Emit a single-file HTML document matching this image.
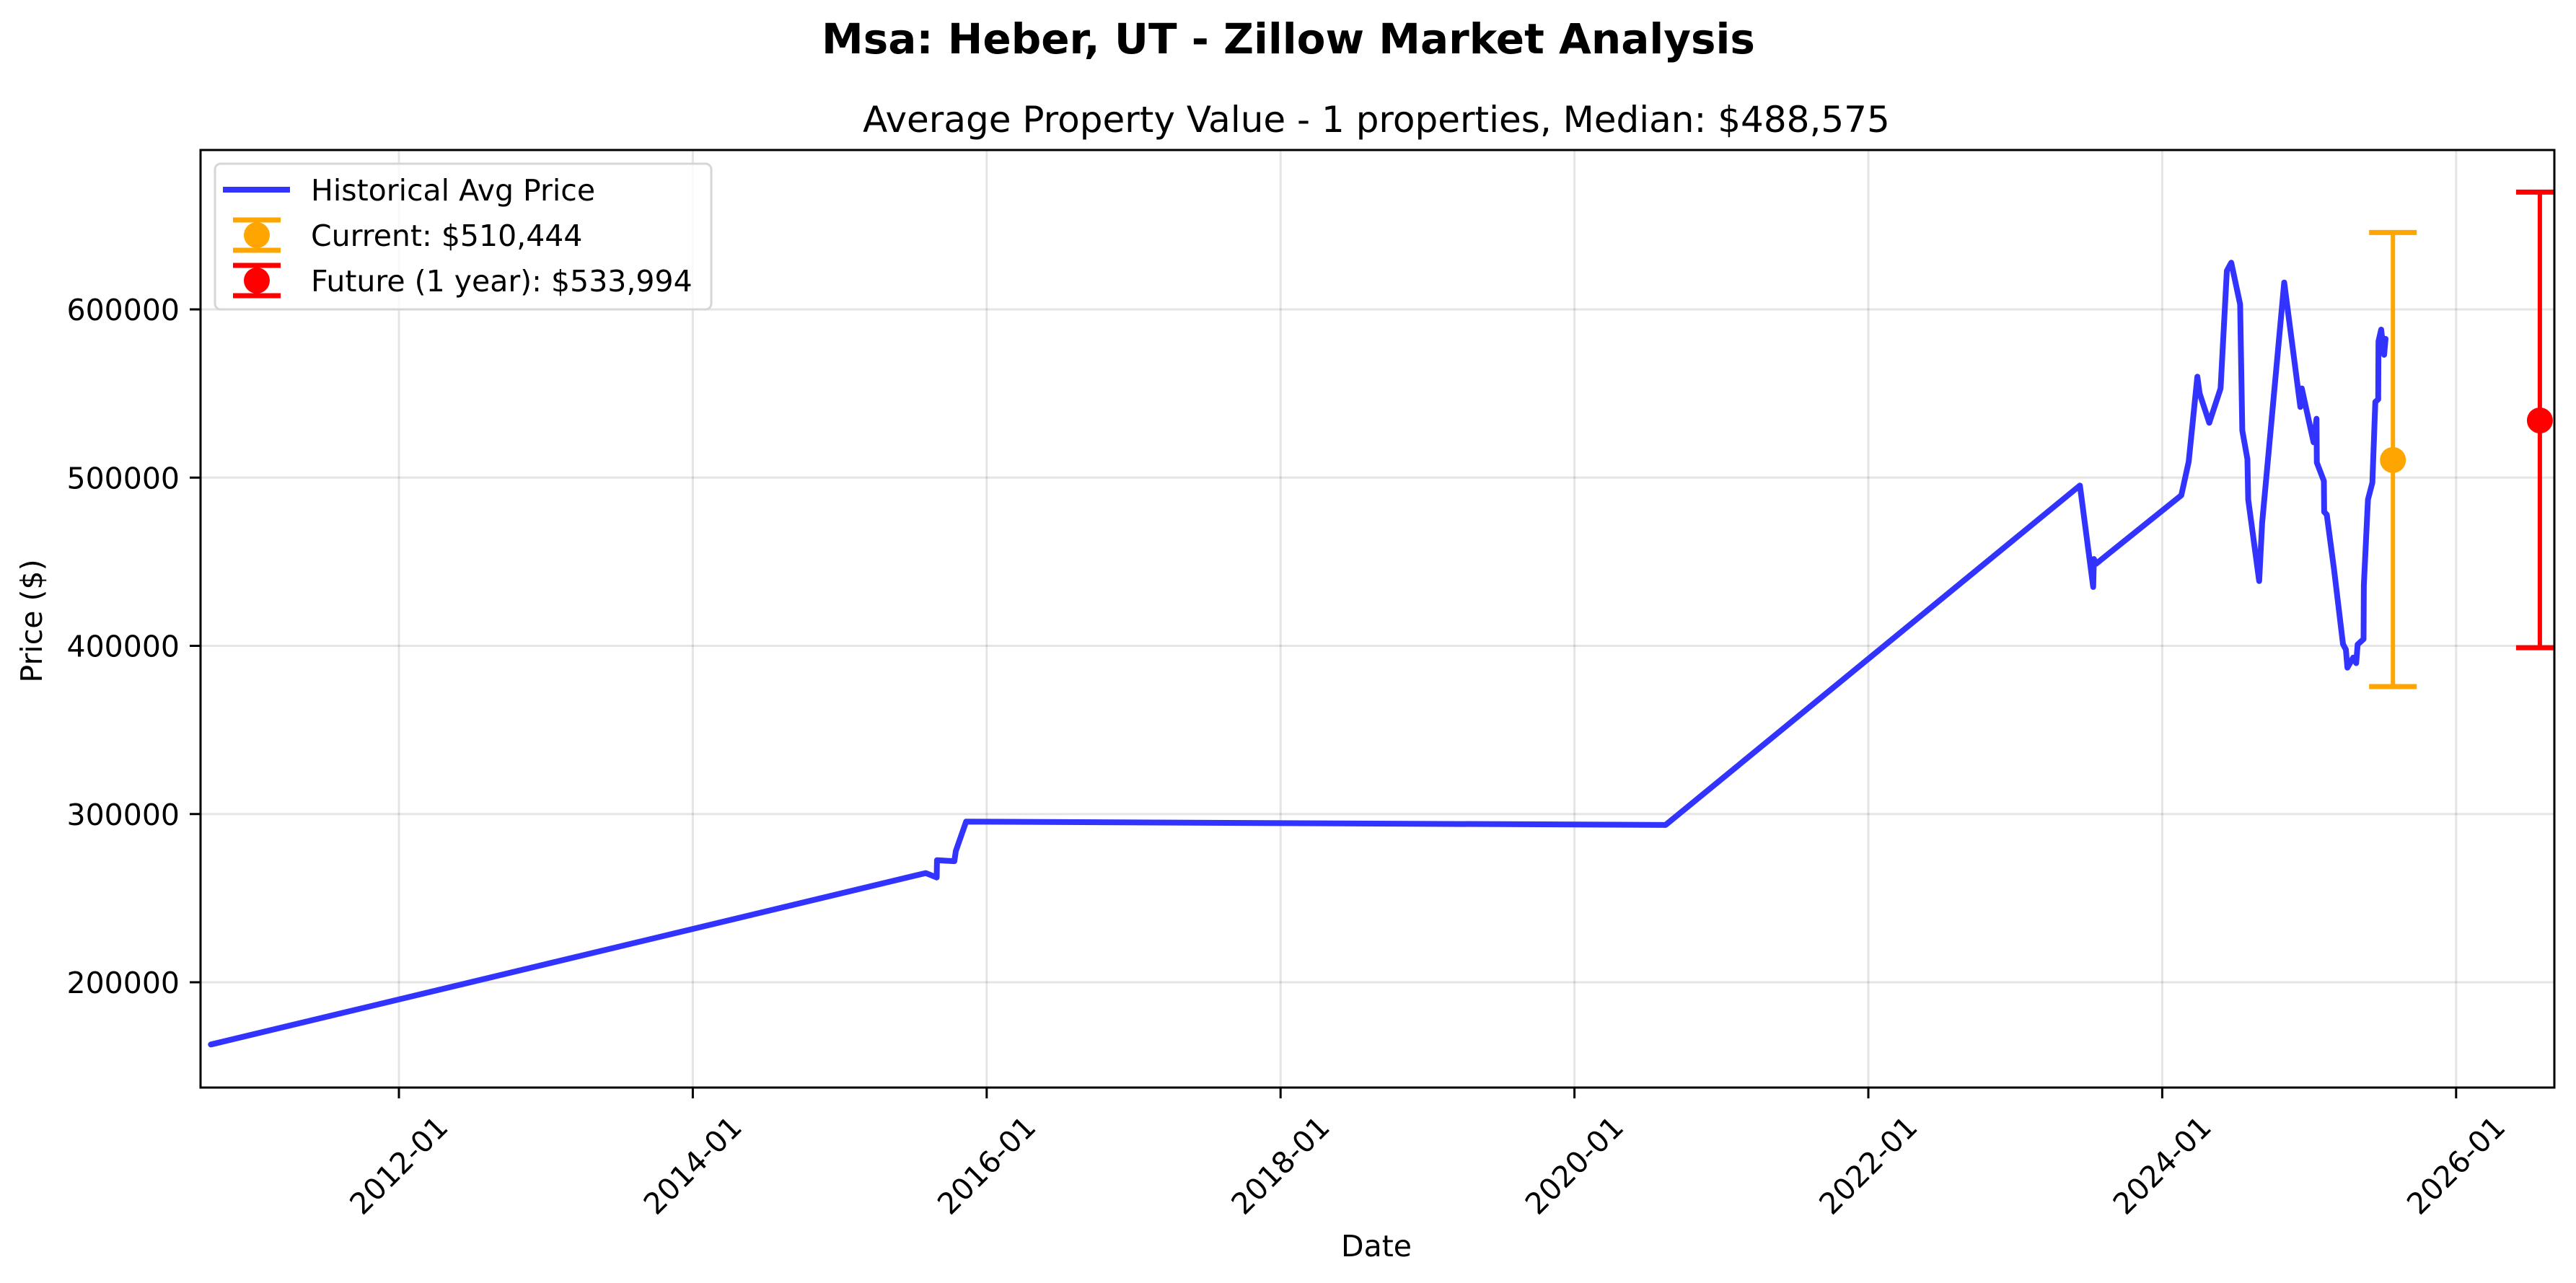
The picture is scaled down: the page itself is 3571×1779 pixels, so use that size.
<!DOCTYPE html>
<html><head><meta charset="utf-8"><style>
html,body{margin:0;padding:0;background:#fff;}
svg{display:block;font-family:"DejaVu Sans","Liberation Sans",sans-serif;}
</style></head><body>
<svg id="chart" width="3571" height="1779" viewBox="0 0 3571 1779" xmlns="http://www.w3.org/2000/svg">
<defs><clipPath id="plotclip"><rect x="278" y="208" width="3263" height="1300"/></clipPath></defs>
<rect width="3571" height="1779" fill="#fff"/>
<text x="1786" y="74" font-size="58" font-weight="bold" text-anchor="middle">Msa: Heber, UT - Zillow Market Analysis</text>
<text x="1908" y="183" font-size="50" text-anchor="middle">Average Property Value - 1 properties, Median: $488,575</text>
<g id="grid"></g>
<g id="series" clip-path="url(#plotclip)"></g>
<rect x="278" y="208" width="3263" height="1300" fill="none" stroke="#000" stroke-width="3"/>
<g id="ticks"></g>
<text x="1908" y="1742" font-size="41" text-anchor="middle">Date</text>
<text x="58" y="861" font-size="41" text-anchor="middle" transform="rotate(-90 58 861)">Price ($)</text>
<g>
<rect x="298" y="227" width="688" height="202" rx="8" fill="#fff" fill-opacity="0.8" stroke="#d6d6d6" stroke-width="3"/>
<g>
<line x1="309" y1="263" x2="402" y2="263" stroke="#3333ff" stroke-width="8"/>
<text x="431" y="278" font-size="41">Historical Avg Price</text></g>
<g>
<line x1="356" y1="305" x2="356" y2="347" stroke="orange" stroke-width="6"/>
<line x1="323" y1="305" x2="389" y2="305" stroke="orange" stroke-width="7"/>
<line x1="323" y1="347" x2="389" y2="347" stroke="orange" stroke-width="7"/>
<circle cx="356" cy="326" r="18" fill="orange"/>
<text x="431" y="341" font-size="41">Current: $510,444</text></g>
<g>
<line x1="356" y1="368" x2="356" y2="410" stroke="red" stroke-width="6"/>
<line x1="323" y1="368" x2="389" y2="368" stroke="red" stroke-width="7"/>
<line x1="323" y1="410" x2="389" y2="410" stroke="red" stroke-width="7"/>
<circle cx="356" cy="389" r="18" fill="red"/>
<text x="431" y="404" font-size="41">Future (1 year): $533,994</text></g>
</g>
</svg>
<script>
const dates = [2010.72,2015.585,2015.66,2015.662,2015.78,2015.79,2015.86,2020.62,2023.44,2023.53,2023.535,2023.55,2024.13,2024.18,2024.239,2024.255,2024.32,2024.397,2024.44,2024.47,2024.53,2024.545,2024.58,2024.585,2024.66,2024.68,2024.83,2024.94,2024.95,2025.03,2025.05,2025.052,2025.10,2025.102,2025.12,2025.17,2025.23,2025.25,2025.26,2025.30,2025.32,2025.33,2025.37,2025.372,2025.40,2025.43,2025.45,2025.47,2025.472,2025.49,2025.51,2025.52];
const prices = [163000,264900,262300,272600,272000,278000,295500,293500,495300,435000,451600,448800,489500,509500,560000,550000,532600,553000,623000,627800,603000,528000,511000,487000,438500,473000,616000,542000,553000,521000,535000,509000,498000,479600,478000,445000,401000,397800,387000,393000,389700,400800,404000,436000,487000,497000,545000,546500,581000,588000,573000,582500];
const pointDates = [2025.57,2026.57];
const pointValues = [510444,533994];
const pointLow = [375800,398900];
const pointHigh = [645700,669700];
const pointColors = ['orange','red'];
const pointNames = ['current','future'];
const yTicks = [200000,300000,400000,500000,600000];
const xTickYears = [2012,2014,2016,2018,2020,2022,2024,2026];
const xTickLabels = ['2012-01','2014-01','2016-01','2018-01','2020-01','2022-01','2024-01','2026-01'];

const NS='http://www.w3.org/2000/svg';
const X = yr => 553 + (yr-2012)*203.7;
const Y = v => 1362 - (v-200000)*0.0023325;
function mk(tag, attrs, parent){const e=document.createElementNS(NS,tag);for(const k in attrs)e.setAttribute(k,attrs[k]);parent.appendChild(e);return e;}
const grid=document.getElementById('grid'), ticks=document.getElementById('ticks'), series=document.getElementById('series');
yTicks.forEach(v=>{
  const g=mk('line',{x1:278,x2:3541,y1:Y(v),y2:Y(v),stroke:'#000','stroke-opacity':0.1,'stroke-width':3},grid);
  
  
  const t=mk('line',{x1:263,x2:278,y1:Y(v),y2:Y(v),stroke:'#000','stroke-width':3},ticks);
  
  
  const l=mk('text',{x:249,y:Y(v)+15,'font-size':41,'text-anchor':'end'},ticks);
  l.textContent=v;
  
  
});
xTickYears.forEach((yr,i)=>{
  const x=X(yr);
  const g=mk('line',{x1:x,x2:x,y1:208,y2:1508,stroke:'#000','stroke-opacity':0.1,'stroke-width':3},grid);
  
  
  const t=mk('line',{x1:x,x2:x,y1:1508,y2:1523,stroke:'#000','stroke-width':3},ticks);
  
  
  const l=mk('text',{x:x,y:1616,'font-size':41,'text-anchor':'middle','dominant-baseline':'central',transform:`rotate(-45 ${x} 1616)`},ticks);
  l.textContent=xTickLabels[i];
  
  
});
const pts=dates.map((d,i)=>X(d).toFixed(1)+','+Y(prices[i]).toFixed(1)).join(' ');
const line=mk('polyline',{points:pts,fill:'none',stroke:'#3333ff','stroke-width':8,'stroke-linejoin':'round','stroke-linecap':'round'},series);


pointDates.forEach((d,i)=>{
  const x=X(d), c=pointColors[i];
  const grp=mk('g',{},series);
  
  
  mk('line',{x1:x,x2:x,y1:Y(pointHigh[i]),y2:Y(pointLow[i]),stroke:c,'stroke-width':6},grp);
  mk('line',{x1:x-33,x2:x+33,y1:Y(pointHigh[i]),y2:Y(pointHigh[i]),stroke:c,'stroke-width':7},grp);
  mk('line',{x1:x-33,x2:x+33,y1:Y(pointLow[i]),y2:Y(pointLow[i]),stroke:c,'stroke-width':7},grp);
  const p=mk('circle',{cx:x,cy:Y(pointValues[i]),r:18,fill:c},grp);
  
  
});
</script>
</body></html>
